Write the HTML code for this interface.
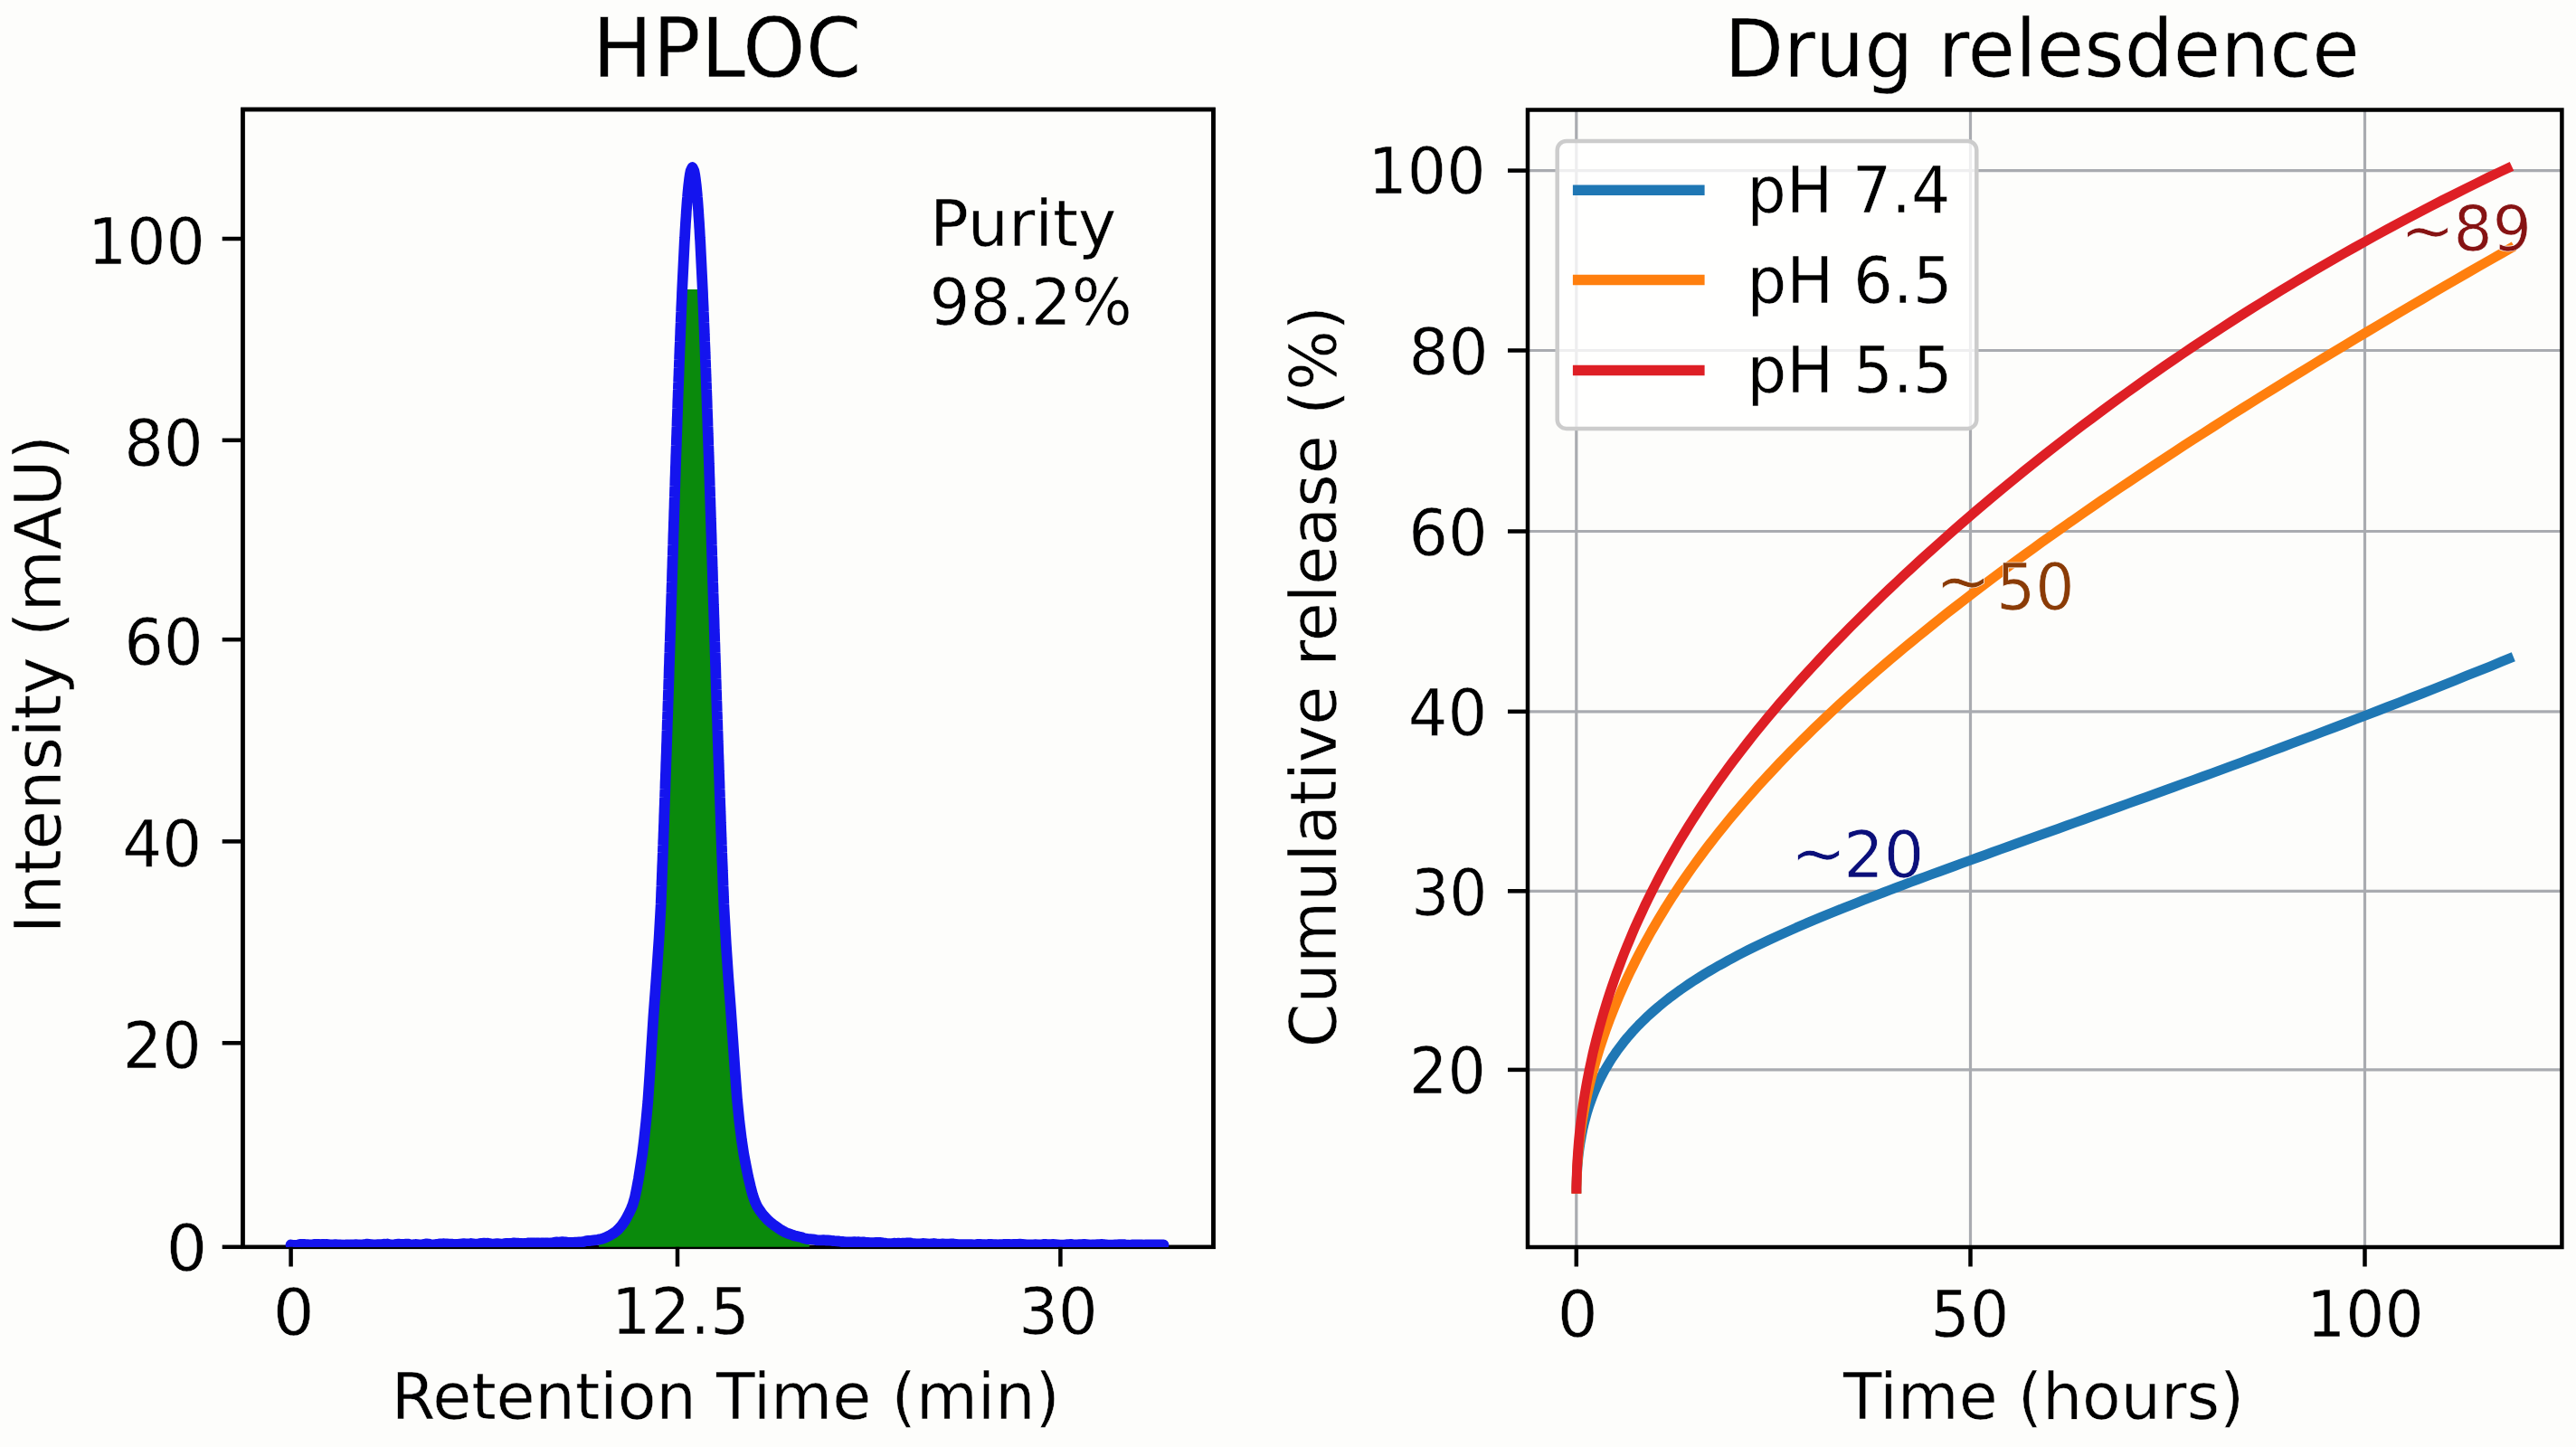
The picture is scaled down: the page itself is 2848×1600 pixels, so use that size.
<!DOCTYPE html>
<html lang="en"><head><meta charset="utf-8"><title>HPLC and drug release</title>
<style>html,body{margin:0;padding:0;background:#fdfdfb;}svg{display:block;}text{white-space:pre;}</style></head>
<body>
<svg width="2848" height="1600" viewBox="0 0 2848 1600" font-family="'DejaVu Sans', 'Liberation Sans', sans-serif">
<rect width="2848" height="1600" fill="#fdfdfb"/>
<g stroke="#000" stroke-width="4.5" fill="none">
<rect x="268.4" y="121" width="1073.1" height="1257.8"/>
</g>
<clipPath id="lc"><rect x="268.4" y="121" width="1073.1" height="1260.05"/></clipPath>
<polygon points="662.0,1378.8 662.8,1370.4 664.9,1370.0 666.9,1369.4 669.0,1368.6 671.0,1367.7 673.1,1366.7 675.1,1365.6 677.2,1364.3 679.2,1363.0 681.3,1361.4 683.4,1359.5 685.4,1357.3 687.5,1354.8 689.5,1351.9 691.6,1348.7 693.6,1345.0 695.7,1341.0 697.8,1336.5 699.8,1331.4 701.9,1324.1 703.9,1314.4 706.0,1303.0 708.0,1290.1 710.1,1276.4 712.1,1260.3 714.2,1240.7 716.3,1217.9 718.3,1188.8 720.4,1155.7 722.4,1124.5 724.5,1096.5 726.5,1068.7 728.6,1037.6 730.7,1000.0 730.8,995.9 731.0,991.8 731.1,987.7 731.3,983.6 731.5,979.5 731.6,975.4 731.8,971.3 731.9,967.2 732.1,963.1 732.2,959.0 732.4,954.9 732.6,950.9 732.7,946.8 732.9,942.7 733.0,938.6 733.2,934.5 733.3,930.4 733.5,926.3 733.6,922.2 733.8,918.1 733.9,914.0 734.1,909.9 734.2,905.8 734.3,901.7 734.5,897.6 734.6,893.5 734.8,889.4 734.9,885.3 735.1,881.2 735.2,877.1 735.4,873.0 735.5,868.9 735.6,864.8 735.8,860.8 735.9,856.7 736.1,852.6 736.2,848.5 736.3,844.4 736.5,840.3 736.6,836.2 736.8,832.1 736.9,828.0 737.0,823.9 737.2,819.8 737.3,815.7 737.4,811.6 737.6,807.5 737.7,803.4 737.8,799.3 738.0,795.2 738.1,791.1 738.3,787.0 738.4,782.9 738.5,778.8 738.7,774.7 738.8,770.7 738.9,766.6 739.1,762.5 739.2,758.4 739.3,754.3 739.5,750.2 739.6,746.1 739.7,742.0 739.8,737.9 740.0,733.8 740.1,729.7 740.2,725.6 740.4,721.5 740.5,717.4 740.6,713.3 740.8,709.2 740.9,705.1 741.0,701.0 741.2,696.9 741.3,692.8 741.4,688.7 741.5,684.6 741.7,680.6 741.8,676.5 741.9,672.4 742.1,668.3 742.2,664.2 742.3,660.1 742.5,656.0 742.6,651.9 742.7,647.8 742.9,643.7 743.0,639.6 743.1,635.5 743.2,631.4 743.4,627.3 743.5,623.2 743.6,619.1 743.8,615.0 743.9,610.9 744.0,606.8 744.2,602.7 744.3,598.6 744.4,594.5 744.5,590.5 744.7,586.4 744.8,582.3 744.9,578.2 745.1,574.1 745.2,570.0 745.3,565.9 745.5,561.8 745.6,557.7 745.7,553.6 745.9,549.5 746.0,545.4 746.1,541.3 746.3,537.2 746.4,533.1 746.5,529.0 746.7,524.9 746.8,520.8 746.9,516.7 747.1,512.6 747.2,508.5 747.3,504.4 747.5,500.4 747.6,496.3 747.8,492.2 747.9,488.1 748.0,484.0 748.2,479.9 748.3,475.8 748.5,471.7 748.6,467.6 748.7,463.5 748.9,459.4 749.0,455.3 749.2,451.2 749.3,447.1 749.4,443.0 749.6,438.9 749.7,434.8 749.9,430.7 750.0,426.6 750.2,422.5 750.3,418.4 750.5,414.3 750.6,410.3 750.8,406.2 750.9,402.1 751.1,398.0 751.2,393.9 751.4,389.8 751.5,385.7 751.7,381.6 751.9,377.5 752.0,373.4 752.2,369.3 752.3,365.2 752.5,361.1 752.7,357.0 752.8,352.9 753.0,348.8 753.2,344.7 753.3,340.6 753.5,336.5 753.7,332.4 753.9,328.3 754.0,324.2 754.2,320.2 754.4,320.0 754.6,320.0 754.8,320.0 755.0,320.0 755.2,320.0 755.4,320.0 755.6,320.0 755.8,320.0 756.0,320.0 756.2,320.0 756.4,320.0 756.6,320.0 756.8,320.0 757.1,320.0 757.3,320.0 757.5,320.0 757.8,320.0 758.0,320.0 758.3,320.0 758.6,320.0 758.8,320.0 759.1,320.0 759.4,320.0 759.7,320.0 760.1,320.0 760.4,320.0 760.8,320.0 761.2,320.0 761.7,320.0 762.2,320.0 762.8,320.0 763.6,320.0 765.5,320.0 767.4,320.0 768.2,320.0 768.8,320.0 769.3,320.0 769.8,320.0 770.2,320.0 770.6,320.0 770.9,320.0 771.3,320.0 771.6,320.0 771.9,320.0 772.2,320.0 772.4,320.0 772.7,320.0 773.0,320.0 773.2,320.0 773.5,320.0 773.7,320.0 773.9,320.0 774.2,320.0 774.4,320.0 774.6,320.0 774.8,320.0 775.0,320.0 775.2,320.0 775.4,320.0 775.6,320.0 775.8,320.0 776.0,320.0 776.2,320.0 776.4,320.0 776.6,320.0 776.8,320.2 777.0,324.2 777.1,328.3 777.3,332.4 777.5,336.5 777.7,340.6 777.8,344.7 778.0,348.8 778.2,352.9 778.3,357.0 778.5,361.1 778.7,365.2 778.8,369.3 779.0,373.4 779.1,377.5 779.3,381.6 779.5,385.7 779.6,389.8 779.8,393.9 779.9,398.0 780.1,402.1 780.2,406.2 780.4,410.3 780.5,414.3 780.7,418.4 780.8,422.5 781.0,426.6 781.1,430.7 781.3,434.8 781.4,438.9 781.6,443.0 781.7,447.1 781.8,451.2 782.0,455.3 782.1,459.4 782.3,463.5 782.4,467.6 782.5,471.7 782.7,475.8 782.8,479.9 783.0,484.0 783.1,488.1 783.2,492.2 783.4,496.3 783.5,500.4 783.7,504.4 783.8,508.5 783.9,512.6 784.1,516.7 784.2,520.8 784.3,524.9 784.5,529.0 784.6,533.1 784.7,537.2 784.9,541.3 785.0,545.4 785.1,549.5 785.3,553.6 785.4,557.7 785.5,561.8 785.7,565.9 785.8,570.0 785.9,574.1 786.1,578.2 786.2,582.3 786.3,586.4 786.5,590.5 786.6,594.5 786.7,598.6 786.8,602.7 787.0,606.8 787.1,610.9 787.2,615.0 787.4,619.1 787.5,623.2 787.6,627.3 787.8,631.4 787.9,635.5 788.0,639.6 788.1,643.7 788.3,647.8 788.4,651.9 788.5,656.0 788.7,660.1 788.8,664.2 788.9,668.3 789.1,672.4 789.2,676.5 789.3,680.6 789.5,684.6 789.6,688.7 789.7,692.8 789.8,696.9 790.0,701.0 790.1,705.1 790.2,709.2 790.4,713.3 790.5,717.4 790.6,721.5 790.8,725.6 790.9,729.7 791.0,733.8 791.2,737.9 791.3,742.0 791.4,746.1 791.5,750.2 791.7,754.3 791.8,758.4 791.9,762.5 792.1,766.6 792.2,770.7 792.3,774.7 792.5,778.8 792.6,782.9 792.7,787.0 792.9,791.1 793.0,795.2 793.2,799.3 793.3,803.4 793.4,807.5 793.6,811.6 793.7,815.7 793.8,819.8 794.0,823.9 794.1,828.0 794.2,832.1 794.4,836.2 794.5,840.3 794.7,844.4 794.8,848.5 794.9,852.6 795.1,856.7 795.2,860.8 795.4,864.8 795.5,868.9 795.6,873.0 795.8,877.1 795.9,881.2 796.1,885.3 796.2,889.4 796.4,893.5 796.5,897.6 796.7,901.7 796.8,905.8 796.9,909.9 797.1,914.0 797.2,918.1 797.4,922.2 797.5,926.3 797.7,930.4 797.8,934.5 798.0,938.6 798.1,942.7 798.3,946.8 798.4,950.9 798.6,954.9 798.8,959.0 798.9,963.1 799.1,967.2 799.2,971.3 799.4,975.4 799.5,979.5 799.7,983.6 799.9,987.7 800.0,991.8 800.2,995.9 800.3,1000.0 802.8,1044.2 805.2,1080.2 807.7,1112.9 810.1,1147.1 812.6,1183.6 815.0,1215.7 817.4,1239.8 819.9,1260.1 822.3,1276.1 824.8,1289.1 827.2,1301.1 829.7,1311.7 832.1,1320.9 834.6,1328.3 837.0,1333.6 839.4,1337.5 841.9,1341.0 844.3,1344.1 846.8,1346.8 849.2,1349.3 851.7,1351.4 854.1,1353.4 856.5,1355.2 859.0,1356.9 861.4,1358.6 863.9,1360.2 866.3,1361.6 868.8,1362.9 871.2,1363.9 873.6,1364.7 876.1,1365.5 878.5,1366.5 881.0,1366.9 883.4,1367.5 885.9,1368.0 888.3,1369.0 890.7,1369.6 893.2,1370.1 895.0,1378.8" fill="#0a8a0c"/>
<polyline points="321.5,1376.5 323.6,1376.9 325.6,1377.0 327.7,1376.9 329.7,1376.5 331.8,1375.9 333.8,1375.8 335.9,1375.9 337.9,1376.3 340.0,1376.2 342.1,1376.3 344.1,1376.3 346.2,1376.2 348.2,1375.9 350.3,1376.0 352.3,1375.9 354.4,1376.1 356.5,1375.9 358.5,1376.0 360.6,1375.8 362.6,1376.1 364.7,1376.4 366.7,1376.5 368.8,1376.4 370.8,1376.1 372.9,1376.4 375.0,1376.3 377.0,1376.8 379.1,1376.5 381.1,1376.7 383.2,1376.4 385.2,1376.5 387.3,1376.3 389.3,1376.4 391.4,1376.3 393.5,1376.1 395.5,1376.3 397.6,1376.4 399.6,1376.6 401.7,1376.2 403.7,1376.0 405.8,1375.6 407.9,1375.8 409.9,1376.0 412.0,1376.4 414.0,1376.4 416.1,1376.4 418.1,1376.1 420.2,1376.1 422.2,1376.1 424.3,1375.7 426.4,1375.8 428.4,1375.5 430.5,1376.2 432.5,1376.4 434.6,1376.8 436.6,1376.2 438.7,1375.9 440.7,1375.6 442.8,1376.0 444.9,1375.9 446.9,1376.0 449.0,1375.6 451.0,1375.6 453.1,1376.0 455.1,1376.3 457.2,1376.2 459.3,1376.0 461.3,1376.1 463.4,1376.3 465.4,1376.3 467.5,1376.1 469.5,1375.7 471.6,1375.3 473.6,1375.5 475.7,1376.0 477.8,1376.3 479.8,1376.4 481.9,1376.0 483.9,1376.0 486.0,1375.3 488.0,1375.6 490.1,1375.2 492.2,1375.5 494.2,1375.4 496.3,1375.6 498.3,1375.7 500.4,1375.7 502.4,1376.1 504.5,1375.9 506.5,1375.9 508.6,1375.6 510.7,1375.4 512.7,1375.2 514.8,1375.4 516.8,1375.5 518.9,1375.5 520.9,1375.0 523.0,1375.3 525.0,1375.7 527.1,1375.6 529.2,1375.5 531.2,1374.9 533.3,1374.9 535.3,1374.6 537.4,1374.8 539.4,1374.7 541.5,1375.2 543.6,1375.5 545.6,1375.7 547.7,1375.4 549.7,1375.1 551.8,1375.4 553.8,1375.7 555.9,1375.5 557.9,1375.2 560.0,1374.9 562.1,1375.0 564.1,1374.8 566.2,1374.8 568.2,1374.4 570.3,1374.6 572.3,1374.6 574.4,1375.0 576.4,1374.9 578.5,1375.1 580.6,1374.8 582.6,1374.8 584.7,1374.3 586.7,1374.5 588.8,1374.4 590.8,1374.3 592.9,1374.5 595.0,1374.4 597.0,1374.8 599.1,1374.4 601.1,1374.5 603.2,1374.3 605.2,1374.4 607.3,1374.6 609.3,1374.4 611.4,1374.2 613.5,1373.6 615.5,1373.5 617.6,1373.6 619.6,1373.5 621.7,1373.2 623.7,1373.4 625.8,1373.4 627.8,1373.9 629.9,1373.9 632.0,1373.9 634.0,1373.9 636.1,1373.7 638.1,1373.6 640.2,1373.4 642.2,1373.5 644.3,1373.2 646.4,1372.7 648.4,1372.1 650.5,1371.9 652.5,1372.0 654.6,1371.7 656.6,1371.4 658.7,1371.1 660.7,1370.8 662.8,1370.4 664.9,1370.0 666.9,1369.4 669.0,1368.6 671.0,1367.7 673.1,1366.7 675.1,1365.6 677.2,1364.3 679.2,1363.0 681.3,1361.4 683.4,1359.5 685.4,1357.3 687.5,1354.8 689.5,1351.9 691.6,1348.7 693.6,1345.0 695.7,1341.0 697.8,1336.5 699.8,1331.4 701.9,1324.1 703.9,1314.4 706.0,1303.0 708.0,1290.1 710.1,1276.4 712.1,1260.3 714.2,1240.7 716.3,1217.9 718.3,1188.8 720.4,1155.7 722.4,1124.5 724.5,1096.5 726.5,1068.7 728.6,1037.6 730.7,1000.0 730.8,995.9 731.0,991.8 731.1,987.7 731.3,983.6 731.5,979.5 731.6,975.4 731.8,971.3 731.9,967.2 732.1,963.1 732.2,959.0 732.4,954.9 732.6,950.9 732.7,946.8 732.9,942.7 733.0,938.6 733.2,934.5 733.3,930.4 733.5,926.3 733.6,922.2 733.8,918.1 733.9,914.0 734.1,909.9 734.2,905.8 734.3,901.7 734.5,897.6 734.6,893.5 734.8,889.4 734.9,885.3 735.1,881.2 735.2,877.1 735.4,873.0 735.5,868.9 735.6,864.8 735.8,860.8 735.9,856.7 736.1,852.6 736.2,848.5 736.3,844.4 736.5,840.3 736.6,836.2 736.8,832.1 736.9,828.0 737.0,823.9 737.2,819.8 737.3,815.7 737.4,811.6 737.6,807.5 737.7,803.4 737.8,799.3 738.0,795.2 738.1,791.1 738.3,787.0 738.4,782.9 738.5,778.8 738.7,774.7 738.8,770.7 738.9,766.6 739.1,762.5 739.2,758.4 739.3,754.3 739.5,750.2 739.6,746.1 739.7,742.0 739.8,737.9 740.0,733.8 740.1,729.7 740.2,725.6 740.4,721.5 740.5,717.4 740.6,713.3 740.8,709.2 740.9,705.1 741.0,701.0 741.2,696.9 741.3,692.8 741.4,688.7 741.5,684.6 741.7,680.6 741.8,676.5 741.9,672.4 742.1,668.3 742.2,664.2 742.3,660.1 742.5,656.0 742.6,651.9 742.7,647.8 742.9,643.7 743.0,639.6 743.1,635.5 743.2,631.4 743.4,627.3 743.5,623.2 743.6,619.1 743.8,615.0 743.9,610.9 744.0,606.8 744.2,602.7 744.3,598.6 744.4,594.5 744.5,590.5 744.7,586.4 744.8,582.3 744.9,578.2 745.1,574.1 745.2,570.0 745.3,565.9 745.5,561.8 745.6,557.7 745.7,553.6 745.9,549.5 746.0,545.4 746.1,541.3 746.3,537.2 746.4,533.1 746.5,529.0 746.7,524.9 746.8,520.8 746.9,516.7 747.1,512.6 747.2,508.5 747.3,504.4 747.5,500.4 747.6,496.3 747.8,492.2 747.9,488.1 748.0,484.0 748.2,479.9 748.3,475.8 748.5,471.7 748.6,467.6 748.7,463.5 748.9,459.4 749.0,455.3 749.2,451.2 749.3,447.1 749.4,443.0 749.6,438.9 749.7,434.8 749.9,430.7 750.0,426.6 750.2,422.5 750.3,418.4 750.5,414.3 750.6,410.3 750.8,406.2 750.9,402.1 751.1,398.0 751.2,393.9 751.4,389.8 751.5,385.7 751.7,381.6 751.9,377.5 752.0,373.4 752.2,369.3 752.3,365.2 752.5,361.1 752.7,357.0 752.8,352.9 753.0,348.8 753.2,344.7 753.3,340.6 753.5,336.5 753.7,332.4 753.9,328.3 754.0,324.2 754.2,320.2 754.4,316.1 754.6,312.0 754.8,307.9 755.0,303.8 755.2,299.7 755.4,295.6 755.6,291.5 755.8,287.4 756.0,283.3 756.2,279.2 756.4,275.1 756.6,271.0 756.8,266.9 757.1,262.8 757.3,258.7 757.5,254.6 757.8,250.5 758.0,246.4 758.3,242.3 758.6,238.2 758.8,234.1 759.1,230.1 759.4,226.0 759.7,221.9 760.1,217.8 760.4,213.7 760.8,209.6 761.2,205.5 761.7,201.4 762.2,197.3 762.8,193.2 763.6,189.1 765.5,185.0 767.4,189.1 768.2,193.2 768.8,197.3 769.3,201.4 769.8,205.5 770.2,209.6 770.6,213.7 770.9,217.8 771.3,221.9 771.6,226.0 771.9,230.1 772.2,234.1 772.4,238.2 772.7,242.3 773.0,246.4 773.2,250.5 773.5,254.6 773.7,258.7 773.9,262.8 774.2,266.9 774.4,271.0 774.6,275.1 774.8,279.2 775.0,283.3 775.2,287.4 775.4,291.5 775.6,295.6 775.8,299.7 776.0,303.8 776.2,307.9 776.4,312.0 776.6,316.1 776.8,320.2 777.0,324.2 777.1,328.3 777.3,332.4 777.5,336.5 777.7,340.6 777.8,344.7 778.0,348.8 778.2,352.9 778.3,357.0 778.5,361.1 778.7,365.2 778.8,369.3 779.0,373.4 779.1,377.5 779.3,381.6 779.5,385.7 779.6,389.8 779.8,393.9 779.9,398.0 780.1,402.1 780.2,406.2 780.4,410.3 780.5,414.3 780.7,418.4 780.8,422.5 781.0,426.6 781.1,430.7 781.3,434.8 781.4,438.9 781.6,443.0 781.7,447.1 781.8,451.2 782.0,455.3 782.1,459.4 782.3,463.5 782.4,467.6 782.5,471.7 782.7,475.8 782.8,479.9 783.0,484.0 783.1,488.1 783.2,492.2 783.4,496.3 783.5,500.4 783.7,504.4 783.8,508.5 783.9,512.6 784.1,516.7 784.2,520.8 784.3,524.9 784.5,529.0 784.6,533.1 784.7,537.2 784.9,541.3 785.0,545.4 785.1,549.5 785.3,553.6 785.4,557.7 785.5,561.8 785.7,565.9 785.8,570.0 785.9,574.1 786.1,578.2 786.2,582.3 786.3,586.4 786.5,590.5 786.6,594.5 786.7,598.6 786.8,602.7 787.0,606.8 787.1,610.9 787.2,615.0 787.4,619.1 787.5,623.2 787.6,627.3 787.8,631.4 787.9,635.5 788.0,639.6 788.1,643.7 788.3,647.8 788.4,651.9 788.5,656.0 788.7,660.1 788.8,664.2 788.9,668.3 789.1,672.4 789.2,676.5 789.3,680.6 789.5,684.6 789.6,688.7 789.7,692.8 789.8,696.9 790.0,701.0 790.1,705.1 790.2,709.2 790.4,713.3 790.5,717.4 790.6,721.5 790.8,725.6 790.9,729.7 791.0,733.8 791.2,737.9 791.3,742.0 791.4,746.1 791.5,750.2 791.7,754.3 791.8,758.4 791.9,762.5 792.1,766.6 792.2,770.7 792.3,774.7 792.5,778.8 792.6,782.9 792.7,787.0 792.9,791.1 793.0,795.2 793.2,799.3 793.3,803.4 793.4,807.5 793.6,811.6 793.7,815.7 793.8,819.8 794.0,823.9 794.1,828.0 794.2,832.1 794.4,836.2 794.5,840.3 794.7,844.4 794.8,848.5 794.9,852.6 795.1,856.7 795.2,860.8 795.4,864.8 795.5,868.9 795.6,873.0 795.8,877.1 795.9,881.2 796.1,885.3 796.2,889.4 796.4,893.5 796.5,897.6 796.7,901.7 796.8,905.8 796.9,909.9 797.1,914.0 797.2,918.1 797.4,922.2 797.5,926.3 797.7,930.4 797.8,934.5 798.0,938.6 798.1,942.7 798.3,946.8 798.4,950.9 798.6,954.9 798.8,959.0 798.9,963.1 799.1,967.2 799.2,971.3 799.4,975.4 799.5,979.5 799.7,983.6 799.9,987.7 800.0,991.8 800.2,995.9 800.3,1000.0 802.8,1044.2 805.2,1080.2 807.7,1112.9 810.1,1147.1 812.6,1183.6 815.0,1215.7 817.4,1239.8 819.9,1260.1 822.3,1276.1 824.8,1289.1 827.2,1301.1 829.7,1311.7 832.1,1320.9 834.6,1328.3 837.0,1333.6 839.4,1337.5 841.9,1341.0 844.3,1344.1 846.8,1346.8 849.2,1349.3 851.7,1351.4 854.1,1353.4 856.5,1355.2 859.0,1356.9 861.4,1358.6 863.9,1360.2 866.3,1361.6 868.8,1362.9 871.2,1363.9 873.6,1364.7 876.1,1365.5 878.5,1366.5 881.0,1366.9 883.4,1367.5 885.9,1368.0 888.3,1369.0 890.7,1369.6 893.2,1370.1 895.6,1370.1 898.1,1370.3 900.5,1370.6 903.0,1371.3 905.4,1371.4 907.8,1371.3 910.3,1371.2 912.7,1371.5 915.2,1371.5 917.6,1371.7 920.1,1372.0 922.5,1372.2 924.9,1372.3 927.4,1372.5 929.8,1373.0 932.3,1373.0 934.7,1373.4 937.2,1373.4 939.6,1373.4 942.0,1373.3 944.5,1373.1 946.9,1373.5 949.4,1373.2 951.8,1373.6 954.3,1373.4 956.7,1373.9 959.1,1373.9 961.6,1374.2 964.0,1374.1 966.5,1374.2 968.9,1373.9 971.4,1374.0 973.8,1374.0 976.2,1374.4 978.7,1374.6 981.1,1375.2 983.6,1375.2 986.0,1375.3 988.5,1374.7 990.9,1375.0 993.3,1374.6 995.8,1375.0 998.2,1374.6 1000.7,1374.7 1003.1,1374.3 1005.6,1374.4 1008.0,1374.9 1010.4,1375.1 1012.9,1375.3 1015.3,1375.4 1017.8,1375.4 1020.2,1375.0 1022.7,1375.1 1025.1,1375.3 1027.5,1375.7 1030.0,1375.3 1032.4,1375.0 1034.9,1375.4 1037.3,1375.6 1039.8,1375.8 1042.2,1375.4 1044.6,1375.6 1047.1,1375.7 1049.5,1375.7 1052.0,1375.4 1054.4,1375.5 1056.9,1375.8 1059.3,1376.1 1061.7,1376.2 1064.2,1376.1 1066.6,1376.2 1069.1,1376.1 1071.5,1376.1 1074.0,1376.2 1076.4,1376.3 1078.8,1376.2 1081.3,1376.0 1083.7,1376.0 1086.2,1376.1 1088.6,1376.2 1091.1,1376.3 1093.5,1375.9 1095.9,1376.0 1098.4,1376.1 1100.8,1376.2 1103.3,1376.4 1105.7,1376.2 1108.2,1376.4 1110.6,1375.9 1113.0,1376.0 1115.5,1375.9 1117.9,1376.1 1120.4,1376.0 1122.8,1376.0 1125.3,1375.9 1127.7,1375.7 1130.1,1375.8 1132.6,1376.1 1135.0,1376.4 1137.5,1376.4 1139.9,1376.3 1142.4,1376.3 1144.8,1376.1 1147.3,1376.5 1149.7,1376.5 1152.1,1376.3 1154.6,1375.8 1157.0,1376.0 1159.5,1376.1 1161.9,1376.2 1164.4,1376.0 1166.8,1376.1 1169.2,1376.3 1171.7,1376.6 1174.1,1376.6 1176.6,1376.6 1179.0,1376.2 1181.5,1376.2 1183.9,1376.0 1186.3,1376.2 1188.8,1376.3 1191.2,1376.4 1193.7,1376.1 1196.1,1376.1 1198.6,1375.8 1201.0,1376.1 1203.4,1376.4 1205.9,1376.7 1208.3,1376.4 1210.8,1376.3 1213.2,1376.2 1215.7,1376.2 1218.1,1376.0 1220.5,1376.1 1223.0,1376.5 1225.4,1376.6 1227.9,1376.6 1230.3,1376.6 1232.8,1376.5 1235.2,1376.4 1237.6,1376.2 1240.1,1376.2 1242.5,1376.1 1245.0,1376.7 1247.4,1376.7 1249.9,1376.8 1252.3,1376.4 1254.7,1376.3 1257.2,1376.3 1259.6,1376.4 1262.1,1376.4 1264.5,1376.6 1267.0,1376.4 1269.4,1376.5 1271.8,1376.5 1274.3,1376.4 1276.7,1376.4 1279.2,1376.3 1281.6,1376.4 1284.1,1376.3 1286.5,1376.3" fill="none" stroke="#1414ee" stroke-width="11.8" stroke-linejoin="round" stroke-linecap="round" clip-path="url(#lc)"/>
<g stroke="#000" stroke-width="4.5" fill="none" stroke-linecap="square">
<path d="M268.4,1378.8 V121 H1341.5 V1378.8"/>
</g>
<rect x="266.15" y="1379.05" width="1077.6" height="2.0" fill="#000"/>
<g stroke="#000" stroke-width="4.5">
<line x1="321.6" y1="1378.8" x2="321.6" y2="1400.5"/>
<line x1="749" y1="1378.8" x2="749" y2="1400.5"/>
<line x1="1172.4" y1="1378.8" x2="1172.4" y2="1400.5"/>
<line x1="245.7" y1="264" x2="268.4" y2="264"/>
<line x1="245.7" y1="486.8" x2="268.4" y2="486.8"/>
<line x1="245.7" y1="707.2" x2="268.4" y2="707.2"/>
<line x1="245.7" y1="930.4" x2="268.4" y2="930.4"/>
<line x1="245.7" y1="1153.3" x2="268.4" y2="1153.3"/>
<line x1="245.7" y1="1378.8" x2="268.4" y2="1378.8"/>
</g>
<text x="655.1" y="85.4" font-size="90" textLength="297.4" lengthAdjust="spacingAndGlyphs" fill="#000" stroke="#fdfdfb" stroke-width="0.5">HPLOC</text>
<text x="97.1" y="292.0" font-size="72" textLength="129.8" lengthAdjust="spacingAndGlyphs" fill="#000" stroke="#fdfdfb" stroke-width="0.5">100</text>
<text x="137.3" y="515.2" font-size="72" textLength="87.3" lengthAdjust="spacingAndGlyphs" fill="#000" stroke="#fdfdfb" stroke-width="0.5">80</text>
<text x="137.3" y="734.8" font-size="72" textLength="87.3" lengthAdjust="spacingAndGlyphs" fill="#000" stroke="#fdfdfb" stroke-width="0.5">60</text>
<text x="135.3" y="958.2" font-size="72" textLength="87.8" lengthAdjust="spacingAndGlyphs" fill="#000" stroke="#fdfdfb" stroke-width="0.5">40</text>
<text x="135.8" y="1181.0" font-size="72" textLength="87.0" lengthAdjust="spacingAndGlyphs" fill="#000" stroke="#fdfdfb" stroke-width="0.5">20</text>
<text x="183.7" y="1405.3" font-size="72" textLength="45.4" lengthAdjust="spacingAndGlyphs" fill="#000" stroke="#fdfdfb" stroke-width="0.5">0</text>
<text x="301.7" y="1475.5" font-size="72" textLength="45.9" lengthAdjust="spacingAndGlyphs" fill="#000" stroke="#fdfdfb" stroke-width="0.5">0</text>
<text x="675.8" y="1475.0" font-size="72" textLength="153.0" lengthAdjust="spacingAndGlyphs" fill="#000" stroke="#fdfdfb" stroke-width="0.5">12.5</text>
<text x="1126.3" y="1474.5" font-size="72" textLength="87.4" lengthAdjust="spacingAndGlyphs" fill="#000" stroke="#fdfdfb" stroke-width="0.5">30</text>
<text x="432.7" y="1569.0" font-size="72" textLength="739.2" lengthAdjust="spacingAndGlyphs" fill="#000" stroke="#fdfdfb" stroke-width="0.5">Retention Time (min)</text>
<text x="1028.1" y="272.4" font-size="72" textLength="206.1" lengthAdjust="spacingAndGlyphs" fill="#000" stroke="#fdfdfb" stroke-width="0.5">Purity</text>
<text x="1027.6" y="359.3" font-size="72" textLength="224.2" lengthAdjust="spacingAndGlyphs" fill="#000" stroke="#fdfdfb" stroke-width="0.5">98.2%</text>
<text transform="translate(66.5,1032.3) rotate(-90)" font-size="72" textLength="551.2" lengthAdjust="spacingAndGlyphs" fill="#000" stroke="#fdfdfb" stroke-width="0.5">Intensity (mAU)</text>
<g stroke="#a9abb0" stroke-width="3.2">
<line x1="1742.8" y1="121.5" x2="1742.8" y2="1379"/>
<line x1="2178.5" y1="121.5" x2="2178.5" y2="1379"/>
<line x1="2614.5" y1="121.5" x2="2614.5" y2="1379"/>
<line x1="1689" y1="188.6" x2="2832.4" y2="188.6"/>
<line x1="1689" y1="387.5" x2="2832.4" y2="387.5"/>
<line x1="1689" y1="587.5" x2="2832.4" y2="587.5"/>
<line x1="1689" y1="786.8" x2="2832.4" y2="786.8"/>
<line x1="1689" y1="985.3" x2="2832.4" y2="985.3"/>
<line x1="1689" y1="1182.9" x2="2832.4" y2="1182.9"/>
</g>
<polyline points="1742.9,1319.6 1742.9,1313.7 1743.1,1307.9 1743.3,1302.2 1743.6,1296.6 1743.9,1291.0 1744.4,1285.5 1744.9,1280.1 1745.5,1274.7 1746.2,1269.5 1747.0,1264.3 1747.9,1259.2 1748.8,1254.1 1749.8,1249.1 1750.9,1244.2 1752.1,1239.4 1753.4,1234.6 1754.7,1229.9 1756.2,1225.2 1757.7,1220.6 1759.3,1216.1 1761.0,1211.6 1762.7,1207.2 1764.6,1202.9 1766.5,1198.6 1768.5,1194.3 1770.6,1190.1 1772.8,1186.0 1775.0,1182.0 1777.4,1177.9 1779.8,1174.0 1782.3,1170.0 1784.9,1166.2 1787.5,1162.4 1790.3,1158.6 1793.1,1154.9 1796.0,1151.2 1799.0,1147.5 1802.1,1143.9 1805.2,1140.4 1808.5,1136.9 1811.8,1133.4 1815.2,1130.0 1818.7,1126.6 1822.2,1123.2 1825.9,1119.9 1829.6,1116.6 1833.4,1113.3 1837.3,1110.1 1841.3,1106.9 1845.3,1103.7 1849.5,1100.6 1853.7,1097.5 1858.0,1094.4 1862.4,1091.4 1866.9,1088.3 1871.4,1085.3 1876.0,1082.4 1880.7,1079.4 1885.5,1076.4 1890.4,1073.5 1895.4,1070.6 1900.4,1067.7 1905.5,1064.9 1910.7,1062.0 1916.0,1059.2 1921.4,1056.3 1926.8,1053.5 1932.4,1050.7 1938.0,1047.9 1943.7,1045.2 1949.5,1042.4 1955.3,1039.6 1961.3,1036.8 1967.3,1034.1 1973.4,1031.3 1979.6,1028.6 1985.8,1025.8 1992.2,1023.1 1998.6,1020.3 2005.1,1017.6 2011.7,1014.8 2018.4,1012.0 2025.2,1009.3 2032.0,1006.5 2038.9,1003.7 2046.0,1000.9 2053.0,998.2 2060.2,995.3 2067.5,992.5 2074.8,989.7 2082.2,986.9 2089.7,984.0 2097.3,981.1 2105.0,978.2 2112.7,975.3 2120.5,972.4 2128.4,969.5 2136.4,966.5 2144.5,963.6 2152.7,960.6 2160.9,957.6 2169.2,954.5 2177.6,951.5 2186.1,948.4 2194.7,945.3 2203.3,942.2 2212.0,939.0 2220.8,935.9 2229.7,932.7 2238.7,929.4 2247.8,926.2 2256.9,922.9 2266.1,919.6 2275.4,916.3 2284.8,912.9 2294.3,909.5 2303.8,906.1 2313.4,902.7 2323.2,899.2 2332.9,895.7 2342.8,892.1 2352.8,888.5 2362.8,884.9 2372.9,881.3 2383.1,877.6 2393.4,873.9 2403.8,870.1 2414.2,866.3 2424.8,862.5 2435.4,858.6 2446.1,854.7 2456.9,850.7 2467.7,846.7 2478.7,842.7 2489.7,838.6 2500.8,834.5 2512.0,830.3 2523.2,826.1 2534.6,821.8 2546.0,817.5 2557.5,813.2 2569.1,808.8 2580.8,804.4 2592.6,799.9 2604.4,795.3 2616.3,790.8 2628.3,786.1 2640.4,781.4 2652.6,776.7 2664.8,771.9 2677.2,767.1 2689.6,762.2 2702.1,757.2 2714.7,752.2 2727.3,747.1 2740.1,742.0 2752.9,736.9 2765.8,731.6 2778.8,726.3" fill="none" stroke="#1f77b4" stroke-width="10.8" stroke-linejoin="round"/>
<polyline points="1742.9,1319.8 1742.9,1313.5 1743.1,1307.1 1743.3,1300.8 1743.6,1294.5 1743.9,1288.1 1744.4,1281.8 1744.9,1275.4 1745.5,1269.0 1746.2,1262.7 1747.0,1256.3 1747.9,1249.9 1748.8,1243.4 1749.8,1237.0 1750.9,1230.6 1752.1,1224.2 1753.4,1217.7 1754.7,1211.3 1756.2,1204.8 1757.7,1198.3 1759.3,1191.9 1761.0,1185.4 1762.7,1178.9 1764.6,1172.4 1766.5,1166.0 1768.5,1159.5 1770.6,1153.0 1772.8,1146.5 1775.0,1140.0 1777.4,1133.5 1779.8,1127.0 1782.3,1120.5 1784.9,1114.0 1787.6,1107.5 1790.3,1101.0 1793.1,1094.5 1796.0,1088.0 1799.0,1081.5 1802.1,1075.0 1805.3,1068.5 1808.5,1062.0 1811.8,1055.5 1815.2,1049.0 1818.7,1042.5 1822.3,1036.0 1825.9,1029.5 1829.7,1023.0 1833.5,1016.5 1837.4,1010.1 1841.3,1003.6 1845.4,997.2 1849.5,990.7 1853.8,984.3 1858.1,977.8 1862.5,971.4 1866.9,965.0 1871.5,958.5 1876.1,952.1 1880.8,945.7 1885.6,939.3 1890.5,932.9 1895.5,926.5 1900.5,920.2 1905.6,913.8 1910.8,907.4 1916.1,901.0 1921.5,894.7 1927.0,888.3 1932.5,881.9 1938.1,875.6 1943.8,869.2 1949.6,862.9 1955.5,856.5 1961.4,850.2 1967.4,843.8 1973.5,837.5 1979.7,831.1 1986.0,824.8 1992.4,818.4 1998.8,812.1 2005.3,805.7 2011.9,799.3 2018.6,793.0 2025.4,786.6 2032.2,780.3 2039.1,773.9 2046.2,767.5 2053.3,761.2 2060.4,754.8 2067.7,748.4 2075.0,742.0 2082.4,735.6 2090.0,729.2 2097.5,722.8 2105.2,716.4 2113.0,710.0 2120.8,703.6 2128.7,697.2 2136.7,690.7 2144.8,684.3 2152.9,677.8 2161.2,671.4 2169.5,664.9 2177.9,658.4 2186.4,651.9 2195.0,645.4 2203.6,638.9 2212.3,632.4 2221.2,625.9 2230.1,619.4 2239.0,612.8 2248.1,606.3 2257.2,599.7 2266.5,593.1 2275.8,586.5 2285.2,579.9 2294.6,573.3 2304.2,566.6 2313.8,560.0 2323.5,553.3 2333.3,546.6 2343.2,539.9 2353.2,533.2 2363.2,526.5 2373.4,519.8 2383.6,513.0 2393.9,506.2 2404.2,499.5 2414.7,492.6 2425.2,485.8 2435.9,479.0 2446.6,472.1 2457.3,465.2 2468.2,458.3 2479.2,451.4 2490.2,444.5 2501.3,437.5 2512.5,430.6 2523.8,423.6 2535.1,416.6 2546.6,409.6 2558.1,402.5 2569.7,395.4 2581.4,388.4 2593.1,381.3 2605.0,374.1 2616.9,367.0 2628.9,359.8 2641.0,352.6 2653.2,345.4 2665.5,338.2 2677.8,331.0 2690.2,323.7 2702.7,316.4 2715.3,309.1 2728.0,301.8 2740.8,294.4 2753.6,287.1 2766.5,279.7 2779.5,272.2" fill="none" stroke="#ff7f0e" stroke-width="10.8" stroke-linejoin="round"/>
<polyline points="1742.9,1319.8 1742.9,1312.5 1743.1,1305.3 1743.3,1298.0 1743.6,1290.8 1743.9,1283.5 1744.4,1276.2 1744.9,1268.9 1745.5,1261.5 1746.2,1254.2 1747.0,1246.8 1747.8,1239.5 1748.8,1232.1 1749.8,1224.7 1750.9,1217.3 1752.1,1209.9 1753.4,1202.5 1754.7,1195.1 1756.2,1187.6 1757.7,1180.2 1759.3,1172.8 1760.9,1165.3 1762.7,1157.9 1764.5,1150.4 1766.5,1142.9 1768.5,1135.5 1770.6,1128.0 1772.7,1120.6 1775.0,1113.1 1777.3,1105.6 1779.7,1098.2 1782.2,1090.7 1784.8,1083.2 1787.4,1075.8 1790.2,1068.3 1793.0,1060.9 1795.9,1053.4 1798.9,1046.0 1802.0,1038.6 1805.1,1031.2 1808.3,1023.7 1811.7,1016.3 1815.1,1008.9 1818.5,1001.5 1822.1,994.2 1825.7,986.8 1829.5,979.4 1833.3,972.1 1837.1,964.8 1841.1,957.5 1845.2,950.2 1849.3,942.9 1853.5,935.6 1857.8,928.3 1862.2,921.1 1866.6,913.9 1871.2,906.7 1875.8,899.5 1880.5,892.3 1885.3,885.1 1890.2,878.0 1895.1,870.8 1900.1,863.7 1905.2,856.6 1910.4,849.4 1915.7,842.3 1921.1,835.2 1926.5,828.2 1932.0,821.1 1937.6,814.0 1943.3,806.9 1949.1,799.8 1954.9,792.8 1960.9,785.7 1966.9,778.6 1973.0,771.6 1979.2,764.5 1985.4,757.5 1991.8,750.4 1998.2,743.3 2004.7,736.3 2011.3,729.2 2017.9,722.1 2024.7,715.1 2031.5,708.0 2038.4,700.9 2045.4,693.8 2052.5,686.7 2059.7,679.6 2066.9,672.5 2074.2,665.3 2081.6,658.2 2089.1,651.0 2096.7,643.9 2104.3,636.7 2112.1,629.5 2119.9,622.3 2127.8,615.1 2135.7,607.9 2143.8,600.7 2151.9,593.4 2160.2,586.2 2168.5,578.9 2176.9,571.7 2185.3,564.4 2193.9,557.2 2202.5,549.9 2211.2,542.6 2220.0,535.4 2228.9,528.1 2237.8,520.8 2246.9,513.6 2256.0,506.3 2265.2,499.0 2274.5,491.8 2283.9,484.5 2293.3,477.3 2302.8,470.0 2312.5,462.8 2322.1,455.6 2331.9,448.4 2341.8,441.2 2351.7,434.0 2361.7,426.8 2371.8,419.6 2382.0,412.5 2392.3,405.3 2402.6,398.2 2413.1,391.1 2423.6,384.0 2434.2,377.0 2444.9,369.9 2455.6,362.9 2466.5,355.9 2477.4,348.9 2488.4,341.9 2499.5,335.0 2510.6,328.1 2521.9,321.2 2533.2,314.3 2544.6,307.5 2556.1,300.7 2567.7,293.9 2579.4,287.1 2591.1,280.4 2602.9,273.7 2614.8,267.1 2626.8,260.4 2638.9,253.8 2651.0,247.3 2663.2,240.8 2675.6,234.3 2688.0,227.8 2700.4,221.4 2713.0,215.1 2725.6,208.7 2738.3,202.5 2751.1,196.2 2764.0,190.0 2777.0,183.9" fill="none" stroke="#de1f25" stroke-width="10.8" stroke-linejoin="round"/>
<rect x="1721.7" y="156" width="463.60000000000014" height="317.9" rx="10" fill="#ffffff" fill-opacity="0.8" stroke="#cccccc" stroke-width="4.5"/>
<line x1="1738.9" y1="210.3" x2="1884.6" y2="210.3" stroke="#1f77b4" stroke-width="11.5"/>
<line x1="1738.9" y1="309.6" x2="1884.6" y2="309.6" stroke="#ff7f0e" stroke-width="11.5"/>
<line x1="1738.9" y1="409.4" x2="1884.6" y2="409.4" stroke="#de1f25" stroke-width="11.5"/>
<rect x="1689" y="121.5" width="1143.4" height="1257.5" stroke="#000" stroke-width="4.5" fill="none"/>
<g stroke="#000" stroke-width="4.5">
<line x1="1742.8" y1="1379" x2="1742.8" y2="1400.5"/>
<line x1="2178.5" y1="1379" x2="2178.5" y2="1400.5"/>
<line x1="2614.5" y1="1379" x2="2614.5" y2="1400.5"/>
<line x1="1667" y1="188.6" x2="1689" y2="188.6"/>
<line x1="1667" y1="387.5" x2="1689" y2="387.5"/>
<line x1="1667" y1="587.5" x2="1689" y2="587.5"/>
<line x1="1667" y1="786.8" x2="1689" y2="786.8"/>
<line x1="1667" y1="985.3" x2="1689" y2="985.3"/>
<line x1="1667" y1="1182.9" x2="1689" y2="1182.9"/>
</g>
<text x="1906.4" y="85.0" font-size="89" textLength="702.3" lengthAdjust="spacingAndGlyphs" fill="#000" stroke="#fdfdfb" stroke-width="0.5">Drug relesdence</text>
<text x="1512.5" y="214.0" font-size="72" textLength="130.0" lengthAdjust="spacingAndGlyphs" fill="#000" stroke="#fdfdfb" stroke-width="0.5">100</text>
<text x="1557.4" y="413.7" font-size="72" textLength="88.3" lengthAdjust="spacingAndGlyphs" fill="#000" stroke="#fdfdfb" stroke-width="0.5">80</text>
<text x="1557.2" y="613.8" font-size="72" textLength="87.4" lengthAdjust="spacingAndGlyphs" fill="#000" stroke="#fdfdfb" stroke-width="0.5">60</text>
<text x="1556.7" y="813.0" font-size="72" textLength="87.5" lengthAdjust="spacingAndGlyphs" fill="#000" stroke="#fdfdfb" stroke-width="0.5">40</text>
<text x="1560.2" y="1011.5" font-size="72" textLength="84.2" lengthAdjust="spacingAndGlyphs" fill="#000" stroke="#fdfdfb" stroke-width="0.5">30</text>
<text x="1558.1" y="1209.0" font-size="72" textLength="84.6" lengthAdjust="spacingAndGlyphs" fill="#000" stroke="#fdfdfb" stroke-width="0.5">20</text>
<text x="1721.8" y="1477.5" font-size="72" textLength="44.9" lengthAdjust="spacingAndGlyphs" fill="#000" stroke="#fdfdfb" stroke-width="0.5">0</text>
<text x="2134.6" y="1477.5" font-size="72" textLength="86.6" lengthAdjust="spacingAndGlyphs" fill="#000" stroke="#fdfdfb" stroke-width="0.5">50</text>
<text x="2550.1" y="1477.5" font-size="72" textLength="129.6" lengthAdjust="spacingAndGlyphs" fill="#000" stroke="#fdfdfb" stroke-width="0.5">100</text>
<text x="2037.9" y="1569.0" font-size="72" textLength="443.3" lengthAdjust="spacingAndGlyphs" fill="#000" stroke="#fdfdfb" stroke-width="0.5">Time (hours)</text>
<text x="1931.6" y="235.3" font-size="71" textLength="224.7" lengthAdjust="spacingAndGlyphs" fill="#000" stroke="#fdfdfb" stroke-width="0.5">pH 7.4</text>
<text x="1931.5" y="334.5" font-size="71" textLength="227.0" lengthAdjust="spacingAndGlyphs" fill="#000" stroke="#fdfdfb" stroke-width="0.5">pH 6.5</text>
<text x="1931.5" y="434.2" font-size="71" textLength="227.0" lengthAdjust="spacingAndGlyphs" fill="#000" stroke="#fdfdfb" stroke-width="0.5">pH 5.5</text>
<text font-size="69.5" fill="#861313" stroke="#fdfdfb" stroke-width="0.7"><tspan x="2653.9" y="279.2" textLength="59.8" lengthAdjust="spacingAndGlyphs">~</tspan><tspan x="2712.6" y="276.9" textLength="86.4" lengthAdjust="spacingAndGlyphs">89</tspan></text>
<text font-size="71.5" fill="#8a3b06" stroke="#fdfdfb" stroke-width="0.7"><tspan x="2139.8" y="666.8" textLength="61.7" lengthAdjust="spacingAndGlyphs">~</tspan><tspan x="2206.9" y="674.3" textLength="86.6" lengthAdjust="spacingAndGlyphs">50</tspan></text>
<text font-size="71" fill="#0b0f7a" stroke="#fdfdfb" stroke-width="0.7"><tspan x="1979.7" y="967.7" textLength="61.6" lengthAdjust="spacingAndGlyphs">~</tspan><tspan x="2038.2" y="969.7" textLength="89.0" lengthAdjust="spacingAndGlyphs">20</tspan></text>
<text transform="translate(1477.4,1158.3) rotate(-90)" font-size="72" textLength="820.4" lengthAdjust="spacingAndGlyphs" fill="#000" stroke="#fdfdfb" stroke-width="0.5">Cumulative release (%)</text>
</svg>
</body></html>
